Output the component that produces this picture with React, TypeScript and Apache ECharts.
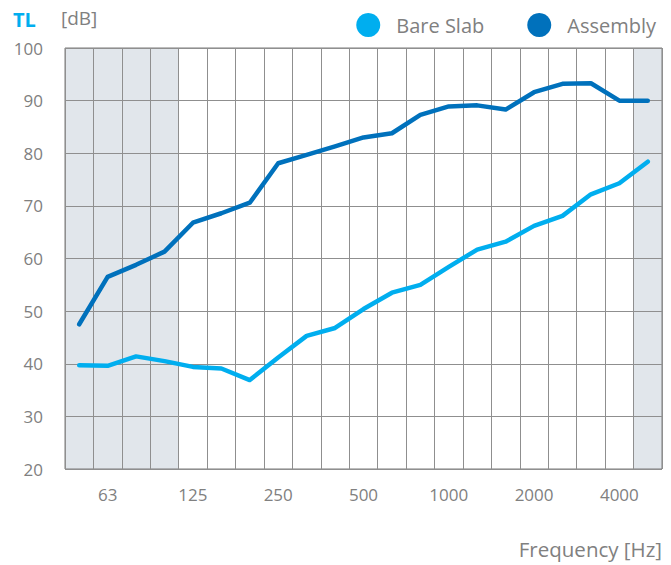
import React, { useEffect, useRef } from "react";
import * as echarts from "echarts";

const frequencies = ["50", "63", "80", "100", "125", "160", "200", "250", "315", "400", "500", "630", "800", "1000", "1250", "1600", "2000", "2500", "3150", "4000", "5000"];
const bareSlab = [39.7, 39.6, 41.4, 40.5, 39.4, 39.1, 36.9, 41.2, 45.3, 46.8, 50.4, 53.5, 55.0, 58.4, 61.7, 63.2, 66.2, 68.1, 72.2, 74.3, 78.4];
const assembly = [47.5, 56.5, 58.8, 61.3, 66.8, 68.6, 70.6, 78.1, 79.7, 81.3, 83.0, 83.8, 87.3, 88.9, 89.1, 88.3, 91.6, 93.2, 93.3, 90.0, 90.0];
const shadedBands = ["50", "63", "80", "100", "5000"];
const labelledBands = ["63", "125", "250", "500", "1000", "2000", "4000"];

const FONT = "'Open Sans', Lato, sans-serif";
const GRAY = "#808080";

export default function App() {
  const ref = useRef<HTMLDivElement>(null);
  useEffect(() => {
    if (!ref.current) return;
    const chart = echarts.init(ref.current, undefined, { renderer: "svg" });
    const shade = frequencies.map((f) => (shadedBands.includes(f) ? 100 : "-"));
    chart.setOption({
      animation: false,
      textStyle: { fontFamily: FONT },
      grid: { left: 65, right: 9, top: 48, bottom: 96, show: true, borderColor: "#7a7a7a", borderWidth: 1, backgroundColor: "transparent" },
      legend: {
        data: ["Bare Slab", "Assembly"],
        right: 10,
        top: 8,
        icon: "circle",
        itemWidth: 24,
        itemHeight: 24,
        itemGap: 43,
        textStyle: { fontSize: 20, color: GRAY, fontFamily: FONT, padding: [0, 0, 0, 11] },
      },
      xAxis: {
        type: "category",
        data: frequencies,
        boundaryGap: true,
        axisLine: { show: false },
        axisTick: { show: false },
        axisLabel: {
          interval: 0,
          formatter: (v: string) => (labelledBands.includes(v) ? v : ""),
          color: GRAY,
          fontSize: 17,
          margin: 17,
          fontFamily: FONT,
        },
        splitLine: { show: true, interval: 0, lineStyle: { color: "#8f8f8f", width: 1 } },
      },
      yAxis: {
        type: "value",
        min: 20,
        max: 100,
        interval: 10,
        axisLine: { show: false },
        axisTick: { show: false },
        axisLabel: { color: GRAY, fontSize: 17, margin: 22, fontFamily: FONT },
        splitLine: { show: true, lineStyle: { color: "#8f8f8f", width: 1 } },
      },
      graphic: [
        { type: "text", left: 13, top: 9, style: { text: "TL", fill: "#00aeef", font: `bold 20px ${FONT}` } },
        { type: "text", left: 61, top: 8, style: { text: "[dB]", fill: GRAY, font: `19px ${FONT}` } },
        { type: "text", right: 9, top: 538, style: { text: "Frequency [Hz]", fill: GRAY, font: `20.5px ${FONT}` } },
      ],
      series: [
        {
          name: "shade",
          type: "bar",
          data: shade,
          barCategoryGap: "0%",
          itemStyle: { color: "#e1e6eb" },
          silent: true,
          z: -1,
        },
        {
          name: "Bare Slab",
          type: "line",
          data: bareSlab,
          symbol: "none",
          color: "#00aeef",
          lineStyle: { width: 4.5, color: "#00aeef", cap: "round", join: "round" },
          z: 3,
        },
        {
          name: "Assembly",
          type: "line",
          data: assembly,
          symbol: "none",
          color: "#0071bc",
          lineStyle: { width: 4.5, color: "#0071bc", cap: "round", join: "round" },
          z: 3,
        },
      ],
    });
    return () => chart.dispose();
  }, []);
  return <div ref={ref} style={{ position: "absolute", left: 0, top: 0, width: 671, height: 565 }} />;
}
